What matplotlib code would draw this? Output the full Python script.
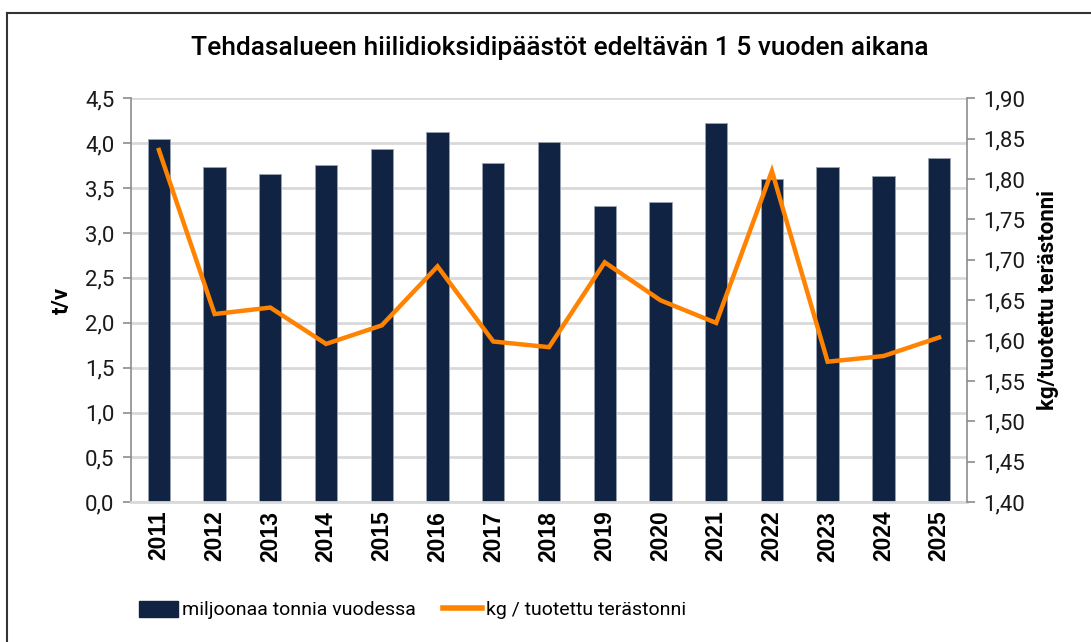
import matplotlib
matplotlib.use("Agg")
import matplotlib.pyplot as plt
from matplotlib.lines import Line2D
from matplotlib.ticker import FuncFormatter

# tiedot
years = [str(y) for y in range(2011, 2026)]
emissions = [4.05, 3.74, 3.66, 3.76, 3.93, 4.12, 3.78, 4.01,
             3.30, 3.34, 4.23, 3.60, 3.73, 3.64, 3.83]
per_tonne = [1.836, 1.633, 1.641, 1.596, 1.619, 1.692, 1.599, 1.592,
             1.697, 1.650, 1.622, 1.810, 1.574, 1.581, 1.604]

title = "Tehdasalueen hiilidioksidipäästöt edeltävän 1 5 vuoden aikana"
bar_label = "miljoonaa tonnia vuodessa"
line_label = "kg / tuotettu terästonni"

BAR_COLOR = "#112343"
LINE_COLOR = "#ff8300"
GRID_COLOR = "#d9d9d9"
AXIS_COLOR = "#8c8c8c"

plt.rcParams["font.family"] = ["Roboto", "DejaVu Sans"]

fig = plt.figure(figsize=(10.91, 6.42), dpi=100)
ax = fig.add_axes([0.1201, 0.2176, 0.7662, 0.6293])
ax2 = ax.twinx()

x = list(range(len(years)))
ax.bar(x, emissions, width=0.4, color=BAR_COLOR, edgecolor="#9aa3b0",
       linewidth=0.6, zorder=2)
ax.set_ylim(0, 4.5)
ax.set_yticks([i * 0.5 for i in range(10)])
ax.set_xlim(-0.5, len(years) - 0.5)
ax.set_xticks(x)
ax.set_xticklabels(years, rotation=90, fontsize=16.5, fontweight="bold",
                   family=["Liberation Sans", "DejaVu Sans"])
ax.yaxis.set_major_formatter(FuncFormatter(lambda v, p: f"{v:.1f}".replace(".", ",")))
ax.grid(axis="y", color=GRID_COLOR, linewidth=2, zorder=0)
ax.set_axisbelow(True)

ax2.plot(x, per_tonne, color=LINE_COLOR, linewidth=3.2, zorder=3,
         solid_joinstyle="miter")
ax2.set_ylim(1.40, 1.90)
ax2.set_yticks([1.40 + i * 0.05 for i in range(11)])
ax2.yaxis.set_major_formatter(FuncFormatter(lambda v, p: f"{v:.2f}".replace(".", ",")))

for a in (ax, ax2):
    for s in a.spines.values():
        s.set_visible(False)
    a.tick_params(axis="y", labelsize=16, length=6, color=AXIS_COLOR,
                  width=1.2, pad=6, labelcolor="#1a1a1a")
ax.spines["left"].set_visible(True)
ax.spines["left"].set_color(AXIS_COLOR)
ax.spines["left"].set_linewidth(1.2)
ax.spines["bottom"].set_visible(True)
ax.spines["bottom"].set_color(GRID_COLOR)
ax.spines["bottom"].set_linewidth(2)
ax2.spines["right"].set_visible(True)
ax2.spines["right"].set_color(AXIS_COLOR)
ax2.spines["right"].set_linewidth(1.2)
ax.tick_params(axis="x", length=0, pad=6, labelcolor="black")

ax.set_ylabel("t/v", fontsize=16, fontweight="bold", labelpad=9)
ax2.set_ylabel("kg/tuotettu terästonni", fontsize=16, fontweight="bold",
               labelpad=8)

fig.text(0.513, 0.925, title, ha="center", va="center", fontsize=19,
         fontweight="medium")

handles = [plt.Rectangle((0, 0), 1, 1, color=BAR_COLOR),
           Line2D([0], [0], color=LINE_COLOR, linewidth=4)]
fig.legend(handles, [bar_label, line_label], loc="center",
           bbox_to_anchor=(0.378, 0.05), ncol=2, frameon=False,
           fontsize=14, handlelength=2.0, handleheight=0.9,
           handletextpad=0.2, columnspacing=1.4)

# kehys
fig.add_artist(Line2D([7 / 1091, 1.0], [1 - 13 / 642, 1 - 13 / 642],
                      transform=fig.transFigure, color="#333333", linewidth=1.5))
fig.add_artist(Line2D([7 / 1091, 7 / 1091], [0, 1 - 13 / 642],
                      transform=fig.transFigure, color="#333333", linewidth=1.5))

fig.savefig("out.png", dpi=100)
